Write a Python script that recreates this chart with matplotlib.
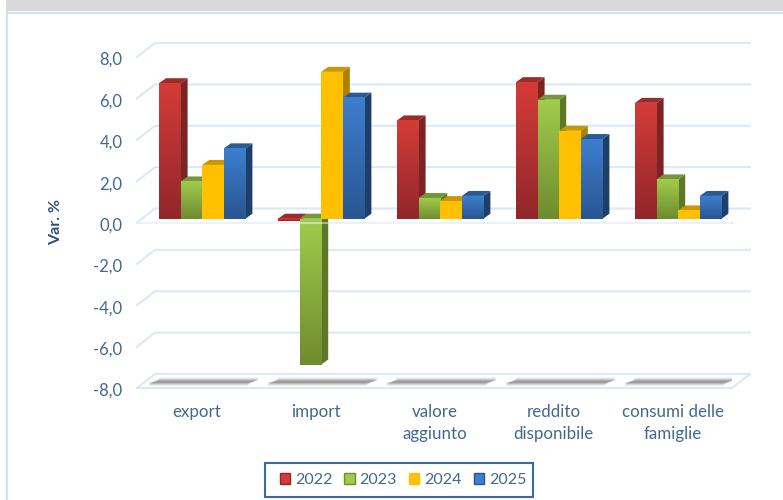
import numpy as np
import matplotlib
matplotlib.use("Agg")
import matplotlib.pyplot as plt
from matplotlib.colors import LinearSegmentedColormap
from matplotlib.patches import Patch, Polygon, Rectangle
from matplotlib.transforms import ScaledTranslation

categories = ["export", "import", "valore\naggiunto", "reddito\ndisponibile", "consumi delle\nfamiglie"]
years = ["2022", "2023", "2024", "2025"]
v2022 = [6.55, -0.1, 4.75, 6.6, 5.6]
v2023 = [1.8, -7.05, 1.0, 5.75, 1.9]
v2024 = [2.6, 7.1, 0.85, 4.25, 0.4]
v2025 = [3.4, 5.85, 1.1, 3.85, 1.1]
series = [v2022, v2023, v2024, v2025]
yticks = [-8, -6, -4, -2, 0, 2, 4, 6, 8]

# top colour, bottom colour, side, cap
colors = [
    ("#d43c38", "#92262a", "#7c2323", "#9a2c2a"),
    ("#9fcb4c", "#6f8c2e", "#5d7829", "#76963a"),
    ("#ffc000", "#ffc000", "#a98200", "#c99700"),
    ("#3e7ecf", "#295692", "#1f3f6b", "#2b5a94"),
]
text_color = "#44678f"
grid_color = "#dde8f7"

W, H = 783, 500
fig = plt.figure(figsize=(W / 100, H / 100), dpi=100, facecolor="white")

# page background: grey band and the frame of the chart
fig.add_artist(Rectangle((6 / W, 1 - 11 / H), 1, 11 / H, transform=fig.transFigure, color="#d9d9d9", lw=0))
fig.add_artist(plt.Line2D([7.5 / W, 7.5 / W], [0, 1 - 12 / H], color="#cfe2f3", lw=1.5))
fig.add_artist(plt.Line2D([7.5 / W, 1], [1 - 12.5 / H, 1 - 12.5 / H], color="#cfe2f3", lw=1.5))

# axes = front plane of the 3d box
ax = fig.add_axes([137 / W, 1 - 388 / H, 595 / W, 331 / H])
ax.set_xlim(0, 5)
ax.set_ylim(-8, 8)
px_x = 5 / 595
px_y = 16 / 331

wall_dx, wall_dy = 18 * px_x, 14 * px_y
for v in yticks:
    ax.plot([0, wall_dx, 5 + wall_dx], [v, v + wall_dy, v + wall_dy], color=grid_color, lw=1.5, clip_on=False, zorder=1)
for v in [-8, 0]:
    ax.plot([0, 5], [v, v], color=grid_color, lw=1.5, clip_on=False, zorder=1)
ax.plot([5, 5 + wall_dx], [-8, -8 + wall_dy], color=grid_color, lw=1.5, clip_on=False, zorder=1)

# soft shadows on the floor
for i in range(5):
    x0, x1 = i + 17 * px_x, i + 1 - 3 * px_x
    for grow, alpha in zip([3.5, 2.5, 1.5, 0.5], [0.12, 0.2, 0.3, 0.45]):
        lo = -8 + (5.5 - grow) * px_y
        hi = -8 + (7 + grow) * px_y
        shear = 6 * px_x
        ax.add_patch(Polygon([(x0 - shear, lo), (x1 - shear, lo), (x1 + shear, hi), (x0 + shear, hi)],
                             color="#7a7a7a", alpha=alpha, lw=0, zorder=1.5))

# bars
bar_w = 21.6 * px_x
start = 22 * px_x
off_y = 3.8 * px_y
dx, dy = 7 * px_x, 5 * px_y
for s, (vals, col) in enumerate(zip(series, colors)):
    cmap = LinearSegmentedColormap.from_list("bar", [col[1], col[0]])
    for i, v in enumerate(vals):
        x = i + start + s * bar_w
        hi, lo = max(v, 0) + off_y, min(v, 0) + off_y
        ax.imshow(np.linspace(1, 0, 64).reshape(-1, 1), cmap=cmap, aspect="auto", vmin=0, vmax=1,
                  extent=(x, x + bar_w, lo, hi), zorder=2 + i + s * 0.1 + 0.02)
        ax.add_patch(Polygon([(x + bar_w, lo), (x + bar_w + dx, lo + dy), (x + bar_w + dx, hi + dy), (x + bar_w, hi)],
                             color=col[2], lw=0, zorder=2 + i + s * 0.1))
        ax.add_patch(Polygon([(x, hi), (x + bar_w, hi), (x + bar_w + dx, hi + dy), (x + dx, hi + dy)],
                             color=col[3], lw=0, zorder=2 + i + s * 0.1 + 0.01))

# front edge of the zero plane runs over the negative bar
ax.plot([0, 5], [0, 0], color="white", alpha=0.45, lw=1.5, zorder=20)
ax.set_xlim(0, 5)
ax.set_ylim(-8, 8)

ax.set_xticks(np.arange(5) + 0.5)
ax.set_xticklabels(categories, fontsize=12.2, color=text_color, family="Lato", linespacing=1.5)
ax.set_yticks(yticks)
ax.set_yticklabels([f"{v:.1f}".replace(".", ",") for v in yticks], fontsize=12, color=text_color, family="Lato")
ax.tick_params(axis="x", length=0, pad=11.5)
ax.tick_params(axis="y", length=0, pad=10.5)
nudge = ScaledTranslation(0, -1.5 / 100, fig.dpi_scale_trans)
for lab in ax.get_yticklabels():
    lab.set_transform(lab.get_transform() + nudge)
for sp in ax.spines.values():
    sp.set_visible(False)
ax.patch.set_visible(False)

fig.text(56 / W, 1 - 222 / H, "Var. %", rotation=90, ha="center", va="center", fontsize=11.5,
         fontweight="bold", color="#2f4f7f", family="Lato")

# legend frame is drawn apart, the entries sit off-centre in it
fig.add_artist(Rectangle((265 / W, 1 - 497 / H), 268 / W, 34 / H, transform=fig.transFigure,
                         facecolor="white", edgecolor="#3a6aa8", lw=1.5))
handles = [Patch(facecolor=c[0], edgecolor=c[1], label=y) for c, y in zip(colors, years)]
leg = fig.legend(handles=handles, loc="center", bbox_to_anchor=(403 / W, 1 - 480 / H), ncol=4,
                 frameon=False, prop={"family": "Lato", "size": 11.5}, handlelength=0.63, handleheight=0.63,
                 handletextpad=0.32, columnspacing=0.75, labelcolor=text_color)
leg.set_zorder(5)

plt.savefig("out.png", dpi=100)
